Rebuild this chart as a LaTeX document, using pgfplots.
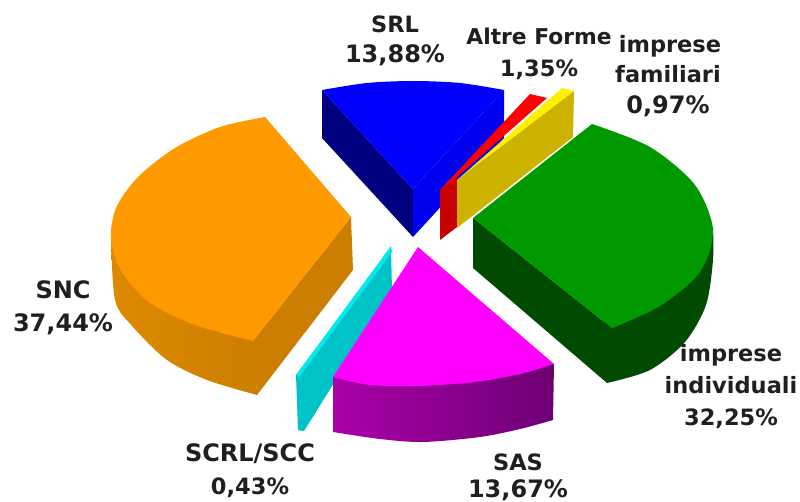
\documentclass[border=0pt]{standalone}
\usepackage{pgfplots}
\pgfplotsset{compat=1.18}
\usepackage{fontspec}
\setmainfont{DejaVu Sans}
\definecolor{orT}{RGB}{255,153,0}
\definecolor{orS}{RGB}{222,138,0}
\definecolor{orD}{RGB}{204,126,0}
\definecolor{blT}{RGB}{0,0,255}
\definecolor{blD}{RGB}{0,0,128}
\definecolor{blR}{RGB}{0,0,240}
\definecolor{reT}{RGB}{255,0,0}
\definecolor{reD}{RGB}{200,0,0}
\definecolor{yeT}{RGB}{255,240,0}
\definecolor{yeD}{RGB}{204,179,0}
\definecolor{grT}{RGB}{0,153,0}
\definecolor{grD}{RGB}{0,75,0}
\definecolor{cyT}{RGB}{0,235,235}
\definecolor{cyD}{RGB}{0,195,200}
\definecolor{maT}{RGB}{255,0,255}
\definecolor{maL}{RGB}{170,0,170}
\definecolor{maR}{RGB}{110,0,115}
\tikzset{lab/.style={anchor=base, inner sep=0pt, align=center, text=black!88, font=\fontsize{22.5}{26}\selectfont\bfseries},
 num/.style={lab, font=\fontsize{24}{28}\selectfont\bfseries},
 alt/.style={lab, font=\fontsize{21.8}{26}\selectfont\bfseries}}
\begin{document}
\begin{tikzpicture}
\begin{axis}[
  scale only axis, width=800pt, height=502pt,
  xmin=0, xmax=800, ymin=0, ymax=502, y dir=reverse,
  hide axis, clip=false,
  every axis plot/.append style={draw=none, forget plot},
]
% SNC
\addplot[smooth, left color=orS, right color=orD] coordinates {(111,235) (115,300) (133,327) (167,360) (207,380) (257,395)} -- (axis cs:253,300) -- cycle;
\addplot[fill=orD] coordinates {(253,341) (257,395) (353,270) (351,217)} -- cycle;
\addplot[smooth, fill=orT] coordinates {(265,117) (220,127) (175,148) (138,177) (116,208) (111,240) (122,272) (150,303) (195,325) (253,341)} -- (axis cs:351,217) -- cycle;
% SRL
\addplot[fill=blD] coordinates {(322,90) (322,138) (413,237) (413,189)} -- cycle;
\addplot[fill=blR] coordinates {(504,90) (504,138) (413,237) (413,189)} -- cycle;
\addplot[smooth, fill=blT] coordinates {(322,90) (367,83) (413,81) (460,83) (504,90)} -- (axis cs:413,189) -- cycle;
% Altre Forme
\addplot[fill=reD] coordinates {(440,190) (440,240) (457,227) (457,177)} -- cycle;
\addplot[fill=reT] coordinates {(530,94) (547,98) (457,177) (440,190)} -- cycle;
% imprese familiari
\addplot[fill=yeD] coordinates {(457,180) (574,91) (573,137) (457,228)} -- cycle;
\addplot[fill=yeT] coordinates {(562,88) (574,91) (457,180)} -- cycle;
% imprese individuali
\addplot[fill=grD] coordinates {(473,218) (473,268) (607,383) (612,328)} -- cycle;
\addplot[smooth, fill=grD] coordinates {(607,383) (650,370) (685,342) (706,305) (713,260) (713,227)} -- (axis cs:600,250) -- cycle;
\addplot[smooth, fill=grT] coordinates {(592,124) (650,147) (695,185) (713,230) (700,272) (660,306) (612,328)} -- (axis cs:473,218) -- cycle;
% SCRL/SCC
\addplot[fill=cyD] coordinates {(391,248) (392,290) (304,431) (298,430) (296,375)} -- cycle;
\addplot[fill=cyT] coordinates {(391,246) (392,252) (300,376) (296,375)} -- cycle;
% SAS
\addplot[smooth, left color=maL, right color=maR] coordinates {(333,432) (380,439) (423,442) (480,437) (520,429) (553,420)} -- (axis cs:554,364) -- (axis cs:333,377) -- cycle;
\addplot[smooth, fill=maT] coordinates {(333,377) (370,385) (420,386) (475,382) (520,374) (554,364)} -- (axis cs:418,247) -- cycle;
% labels
\node[lab] at (axis cs:395,33) {SRL};
\node[num] at (axis cs:395,63) {13,88\%};
\node[alt] at (axis cs:539,45) {Altre Forme};
\node[lab] at (axis cs:539,77) {1,35\%};
\node[lab] at (axis cs:670,53) {imprese};
\node[lab] at (axis cs:668,83) {familiari};
\node[num] at (axis cs:668,114) {0,97\%};
\node[lab] at (axis cs:731,362) {imprese};
\node[lab] at (axis cs:731,393) {individuali};
\node[lab] at (axis cs:731,425) {32,25\%};
\node[num] at (axis cs:63,299) {SNC};
\node[num] at (axis cs:63,331) {37,44\%};
\node[num] at (axis cs:250,461) {SCRL/SCC};
\node[lab] at (axis cs:250,494) {0,43\%};
\node[lab] at (axis cs:518,470) {SAS};
\node[num] at (axis cs:518,497) {13,67\%};
\end{axis}
\pgfresetboundingbox
\useasboundingbox (0,0) rectangle (800pt,502pt);
\end{tikzpicture}
\end{document}
